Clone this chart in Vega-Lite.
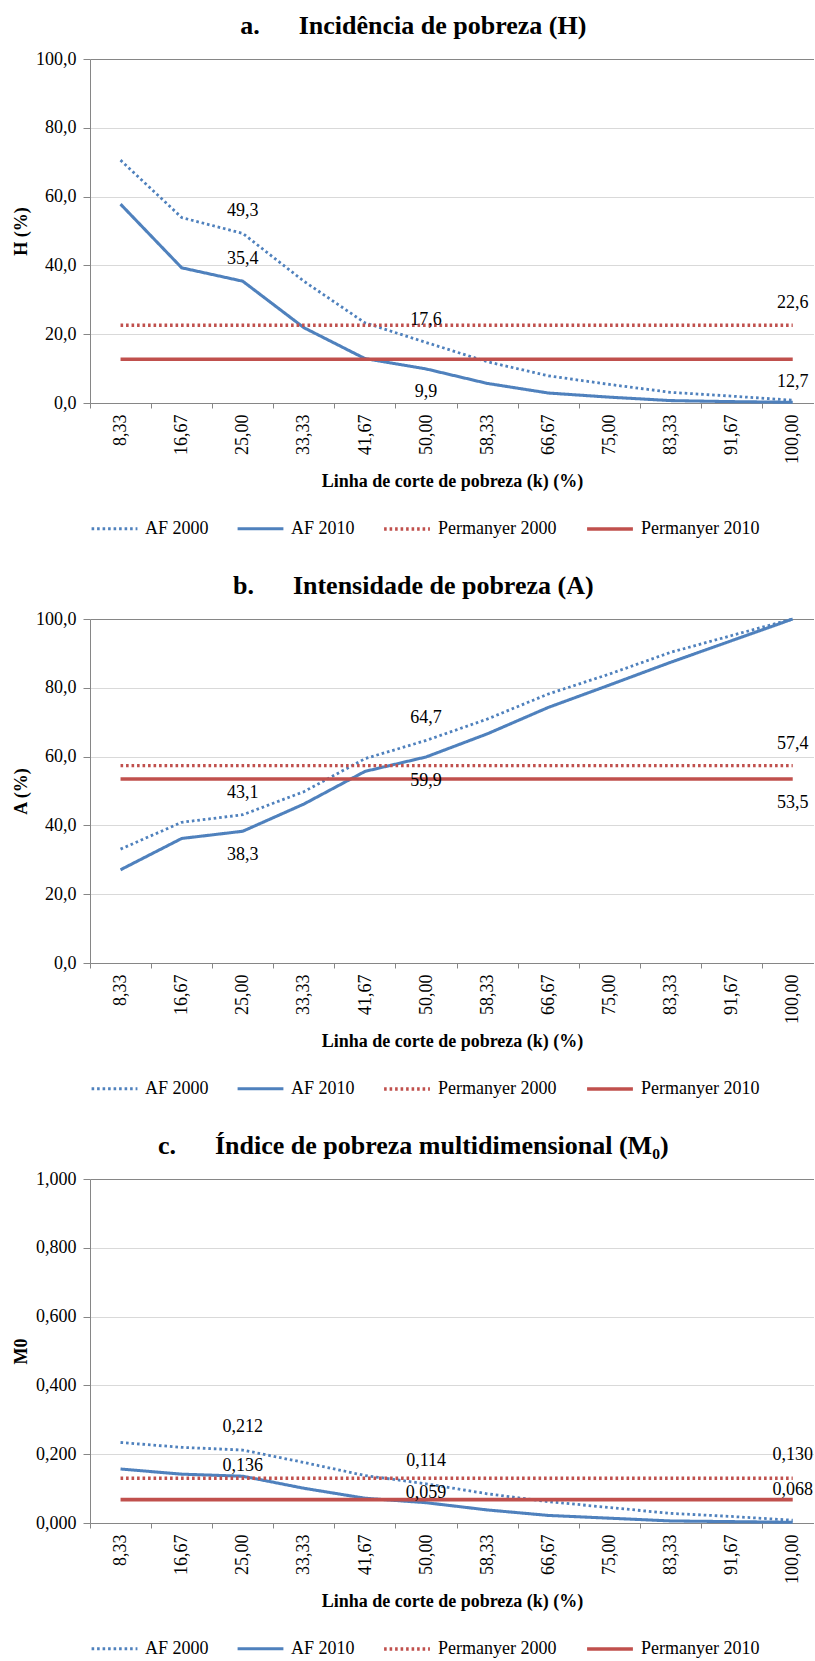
{
  "$schema": "https://vega.github.io/schema/vega-lite/v6.json",
  "padding": {"left": 12, "top": 12, "right": 0, "bottom": 0},
  "background": "white",
  "spacing": 34,
  "config": {
    "locale": {"number": {"decimal": ",", "thousands": ".", "grouping": [3], "currency": ["R$", ""]}},
    "font": "Liberation Serif",
    "view": {"stroke": null},
    "title": {"font": "Liberation Serif", "fontSize": 26, "fontWeight": "bold", "color": "black", "anchor": "middle", "frame": "bounds", "offset": 11.5},
    "axis": {"labelFont": "Liberation Serif", "labelFontSize": 18, "labelColor": "black", "titleFont": "Liberation Serif", "titleFontSize": 18, "titleFontWeight": "bold", "titleColor": "black", "domainColor": "#868686", "tickColor": "#868686", "gridColor": "#D9D9D9", "gridWidth": 1},
    "legend": {"orient": "bottom", "direction": "horizontal", "labelFont": "Liberation Serif", "labelFontSize": 18, "labelColor": "black", "symbolType": "stroke", "symbolSize": 2100, "labelOffset": 6, "columnPadding": 22, "offset": 13},
    "text": {"font": "Liberation Serif", "fontSize": 18, "color": "black"}
  },
  "datasets": {
    "H": [
      {"k": 8.33, "series": "AF 2000", "v": 70.6}, {"k": 16.67, "series": "AF 2000", "v": 53.9}, {"k": 25, "series": "AF 2000", "v": 49.3}, {"k": 33.33, "series": "AF 2000", "v": 35.4}, {"k": 41.67, "series": "AF 2000", "v": 23.3}, {"k": 50, "series": "AF 2000", "v": 17.6}, {"k": 58.33, "series": "AF 2000", "v": 12.0}, {"k": 66.67, "series": "AF 2000", "v": 7.9}, {"k": 75, "series": "AF 2000", "v": 5.4}, {"k": 83.33, "series": "AF 2000", "v": 3.1}, {"k": 91.67, "series": "AF 2000", "v": 2.0}, {"k": 100, "series": "AF 2000", "v": 0.8},
      {"k": 8.33, "series": "AF 2010", "v": 57.8}, {"k": 16.67, "series": "AF 2010", "v": 39.3}, {"k": 25, "series": "AF 2010", "v": 35.4}, {"k": 33.33, "series": "AF 2010", "v": 21.9}, {"k": 41.67, "series": "AF 2010", "v": 12.9}, {"k": 50, "series": "AF 2010", "v": 9.9}, {"k": 58.33, "series": "AF 2010", "v": 5.7}, {"k": 66.67, "series": "AF 2010", "v": 2.9}, {"k": 75, "series": "AF 2010", "v": 1.7}, {"k": 83.33, "series": "AF 2010", "v": 0.7}, {"k": 91.67, "series": "AF 2010", "v": 0.4}, {"k": 100, "series": "AF 2010", "v": 0.2},
      {"k": 8.33, "series": "Permanyer 2000", "v": 22.6}, {"k": 16.67, "series": "Permanyer 2000", "v": 22.6}, {"k": 25, "series": "Permanyer 2000", "v": 22.6}, {"k": 33.33, "series": "Permanyer 2000", "v": 22.6}, {"k": 41.67, "series": "Permanyer 2000", "v": 22.6}, {"k": 50, "series": "Permanyer 2000", "v": 22.6}, {"k": 58.33, "series": "Permanyer 2000", "v": 22.6}, {"k": 66.67, "series": "Permanyer 2000", "v": 22.6}, {"k": 75, "series": "Permanyer 2000", "v": 22.6}, {"k": 83.33, "series": "Permanyer 2000", "v": 22.6}, {"k": 91.67, "series": "Permanyer 2000", "v": 22.6}, {"k": 100, "series": "Permanyer 2000", "v": 22.6},
      {"k": 8.33, "series": "Permanyer 2010", "v": 12.7}, {"k": 16.67, "series": "Permanyer 2010", "v": 12.7}, {"k": 25, "series": "Permanyer 2010", "v": 12.7}, {"k": 33.33, "series": "Permanyer 2010", "v": 12.7}, {"k": 41.67, "series": "Permanyer 2010", "v": 12.7}, {"k": 50, "series": "Permanyer 2010", "v": 12.7}, {"k": 58.33, "series": "Permanyer 2010", "v": 12.7}, {"k": 66.67, "series": "Permanyer 2010", "v": 12.7}, {"k": 75, "series": "Permanyer 2010", "v": 12.7}, {"k": 83.33, "series": "Permanyer 2010", "v": 12.7}, {"k": 91.67, "series": "Permanyer 2010", "v": 12.7}, {"k": 100, "series": "Permanyer 2010", "v": 12.7}
    ],
    "A": [
      {"k": 8.33, "series": "AF 2000", "v": 33.1}, {"k": 16.67, "series": "AF 2000", "v": 40.9}, {"k": 25, "series": "AF 2000", "v": 43.1}, {"k": 33.33, "series": "AF 2000", "v": 49.8}, {"k": 41.67, "series": "AF 2000", "v": 59.4}, {"k": 50, "series": "AF 2000", "v": 64.7}, {"k": 58.33, "series": "AF 2000", "v": 70.9}, {"k": 66.67, "series": "AF 2000", "v": 78.2}, {"k": 75, "series": "AF 2000", "v": 84.0}, {"k": 83.33, "series": "AF 2000", "v": 90.3}, {"k": 91.67, "series": "AF 2000", "v": 95.2}, {"k": 100, "series": "AF 2000", "v": 100.0},
      {"k": 8.33, "series": "AF 2010", "v": 27.1}, {"k": 16.67, "series": "AF 2010", "v": 36.2}, {"k": 25, "series": "AF 2010", "v": 38.3}, {"k": 33.33, "series": "AF 2010", "v": 46.2}, {"k": 41.67, "series": "AF 2010", "v": 55.7}, {"k": 50, "series": "AF 2010", "v": 59.9}, {"k": 58.33, "series": "AF 2010", "v": 66.6}, {"k": 66.67, "series": "AF 2010", "v": 74.3}, {"k": 75, "series": "AF 2010", "v": 80.8}, {"k": 83.33, "series": "AF 2010", "v": 87.4}, {"k": 91.67, "series": "AF 2010", "v": 93.7}, {"k": 100, "series": "AF 2010", "v": 100.0},
      {"k": 8.33, "series": "Permanyer 2000", "v": 57.4}, {"k": 16.67, "series": "Permanyer 2000", "v": 57.4}, {"k": 25, "series": "Permanyer 2000", "v": 57.4}, {"k": 33.33, "series": "Permanyer 2000", "v": 57.4}, {"k": 41.67, "series": "Permanyer 2000", "v": 57.4}, {"k": 50, "series": "Permanyer 2000", "v": 57.4}, {"k": 58.33, "series": "Permanyer 2000", "v": 57.4}, {"k": 66.67, "series": "Permanyer 2000", "v": 57.4}, {"k": 75, "series": "Permanyer 2000", "v": 57.4}, {"k": 83.33, "series": "Permanyer 2000", "v": 57.4}, {"k": 91.67, "series": "Permanyer 2000", "v": 57.4}, {"k": 100, "series": "Permanyer 2000", "v": 57.4},
      {"k": 8.33, "series": "Permanyer 2010", "v": 53.5}, {"k": 16.67, "series": "Permanyer 2010", "v": 53.5}, {"k": 25, "series": "Permanyer 2010", "v": 53.5}, {"k": 33.33, "series": "Permanyer 2010", "v": 53.5}, {"k": 41.67, "series": "Permanyer 2010", "v": 53.5}, {"k": 50, "series": "Permanyer 2010", "v": 53.5}, {"k": 58.33, "series": "Permanyer 2010", "v": 53.5}, {"k": 66.67, "series": "Permanyer 2010", "v": 53.5}, {"k": 75, "series": "Permanyer 2010", "v": 53.5}, {"k": 83.33, "series": "Permanyer 2010", "v": 53.5}, {"k": 91.67, "series": "Permanyer 2010", "v": 53.5}, {"k": 100, "series": "Permanyer 2010", "v": 53.5}
    ],
    "M0": [
      {"k": 8.33, "series": "AF 2000", "v": 0.234}, {"k": 16.67, "series": "AF 2000", "v": 0.220}, {"k": 25, "series": "AF 2000", "v": 0.212}, {"k": 33.33, "series": "AF 2000", "v": 0.176}, {"k": 41.67, "series": "AF 2000", "v": 0.138}, {"k": 50, "series": "AF 2000", "v": 0.114}, {"k": 58.33, "series": "AF 2000", "v": 0.085}, {"k": 66.67, "series": "AF 2000", "v": 0.062}, {"k": 75, "series": "AF 2000", "v": 0.045}, {"k": 83.33, "series": "AF 2000", "v": 0.028}, {"k": 91.67, "series": "AF 2000", "v": 0.019}, {"k": 100, "series": "AF 2000", "v": 0.008},
      {"k": 8.33, "series": "AF 2010", "v": 0.157}, {"k": 16.67, "series": "AF 2010", "v": 0.142}, {"k": 25, "series": "AF 2010", "v": 0.136}, {"k": 33.33, "series": "AF 2010", "v": 0.101}, {"k": 41.67, "series": "AF 2010", "v": 0.072}, {"k": 50, "series": "AF 2010", "v": 0.059}, {"k": 58.33, "series": "AF 2010", "v": 0.038}, {"k": 66.67, "series": "AF 2010", "v": 0.022}, {"k": 75, "series": "AF 2010", "v": 0.014}, {"k": 83.33, "series": "AF 2010", "v": 0.006}, {"k": 91.67, "series": "AF 2010", "v": 0.004}, {"k": 100, "series": "AF 2010", "v": 0.002},
      {"k": 8.33, "series": "Permanyer 2000", "v": 0.130}, {"k": 16.67, "series": "Permanyer 2000", "v": 0.130}, {"k": 25, "series": "Permanyer 2000", "v": 0.130}, {"k": 33.33, "series": "Permanyer 2000", "v": 0.130}, {"k": 41.67, "series": "Permanyer 2000", "v": 0.130}, {"k": 50, "series": "Permanyer 2000", "v": 0.130}, {"k": 58.33, "series": "Permanyer 2000", "v": 0.130}, {"k": 66.67, "series": "Permanyer 2000", "v": 0.130}, {"k": 75, "series": "Permanyer 2000", "v": 0.130}, {"k": 83.33, "series": "Permanyer 2000", "v": 0.130}, {"k": 91.67, "series": "Permanyer 2000", "v": 0.130}, {"k": 100, "series": "Permanyer 2000", "v": 0.130},
      {"k": 8.33, "series": "Permanyer 2010", "v": 0.068}, {"k": 16.67, "series": "Permanyer 2010", "v": 0.068}, {"k": 25, "series": "Permanyer 2010", "v": 0.068}, {"k": 33.33, "series": "Permanyer 2010", "v": 0.068}, {"k": 41.67, "series": "Permanyer 2010", "v": 0.068}, {"k": 50, "series": "Permanyer 2010", "v": 0.068}, {"k": 58.33, "series": "Permanyer 2010", "v": 0.068}, {"k": 66.67, "series": "Permanyer 2010", "v": 0.068}, {"k": 75, "series": "Permanyer 2010", "v": 0.068}, {"k": 83.33, "series": "Permanyer 2010", "v": 0.068}, {"k": 91.67, "series": "Permanyer 2010", "v": 0.068}, {"k": 100, "series": "Permanyer 2010", "v": 0.068}
    ]
  },
  "resolve": {
    "scale": {"x": "independent", "y": "independent", "color": "independent", "strokeDash": "independent", "strokeWidth": "independent"},
    "legend": {"color": "independent", "strokeDash": "independent", "strokeWidth": "independent"}
  },
  "vconcat": [
    {
      "title": {"text": "a.\u00a0\u00a0\u00a0\u00a0\u00a0 Incidência de pobreza (H)"},
      "width": 724, "height": 344,
      "data": {"name": "H"},
      "encoding": {
        "x": {"field": "k", "type": "quantitative", "scale": {"domain": [4.165, 102.9], "nice": false, "zero": false},
          "axis": {"title": "Linha de corte de pobreza (k) (%)", "values": [8.33, 16.67, 25, 33.33, 41.67, 50, 58.33, 66.67, 75, 83.33, 91.67, 100], "format": ".2f", "labelAngle": -90, "tickOffset": -30.6, "labelOffset": 30.6, "tickSize": 5, "labelPadding": 6, "grid": false, "titlePadding": 9}},
        "y": {"field": "v", "type": "quantitative", "scale": {"domain": [0, 100], "nice": false},
          "axis": {"title": "H (%)", "values": [0, 20, 40, 60, 80, 100], "format": ".1f", "tickSize": 7, "labelPadding": 7, "titlePadding": 5, "gridColor": {"condition": {"test": "datum.value === 100", "value": "#868686"}, "value": "#D9D9D9"}}}
      },
      "layer": [
        {"mark": {"type": "line", "strokeCap": "butt"},
         "encoding": {
           "color": {"field": "series", "type": "nominal", "scale": {"domain": ["AF 2000", "AF 2010", "Permanyer 2000", "Permanyer 2010"], "range": ["#4F81BD", "#4F81BD", "#C0504D", "#C0504D"]}, "legend": {"title": null}},
           "strokeDash": {"field": "series", "type": "nominal", "scale": {"domain": ["AF 2000", "AF 2010", "Permanyer 2000", "Permanyer 2010"], "range": [[2.6, 2.9], [1, 0], [2.6, 2.9], [1, 0]]}, "legend": {"title": null}},
           "strokeWidth": {"field": "series", "type": "nominal", "scale": {"domain": ["AF 2000", "AF 2010", "Permanyer 2000", "Permanyer 2010"], "range": [2.8, 3.6, 2.8, 3.6]}, "legend": {"title": null}}
         }},
        {"transform": [{"filter": "(datum.series == 'AF 2000' && (datum.k == 25 || datum.k == 50)) || (datum.series == 'AF 2010' && datum.k == 25) || (datum.series == 'Permanyer 2000' && datum.k == 100)"}],
         "mark": {"type": "text", "dy": -22},
         "encoding": {"text": {"field": "v", "type": "quantitative", "format": ".1f"}}},
        {"transform": [{"filter": "(datum.series == 'AF 2010' && datum.k == 50) || (datum.series == 'Permanyer 2010' && datum.k == 100)"}],
         "mark": {"type": "text", "dy": 23},
         "encoding": {"text": {"field": "v", "type": "quantitative", "format": ".1f"}}}
      ]
    },
    {
      "title": {"text": "b.\u00a0\u00a0\u00a0\u00a0\u00a0 Intensidade de pobreza (A)"},
      "width": 724, "height": 344,
      "data": {"name": "A"},
      "encoding": {
        "x": {"field": "k", "type": "quantitative", "scale": {"domain": [4.165, 102.9], "nice": false, "zero": false},
          "axis": {"title": "Linha de corte de pobreza (k) (%)", "values": [8.33, 16.67, 25, 33.33, 41.67, 50, 58.33, 66.67, 75, 83.33, 91.67, 100], "format": ".2f", "labelAngle": -90, "tickOffset": -30.6, "labelOffset": 30.6, "tickSize": 5, "labelPadding": 6, "grid": false, "titlePadding": 9}},
        "y": {"field": "v", "type": "quantitative", "scale": {"domain": [0, 100], "nice": false},
          "axis": {"title": "A (%)", "values": [0, 20, 40, 60, 80, 100], "format": ".1f", "tickSize": 7, "labelPadding": 7, "titlePadding": 5, "gridColor": {"condition": {"test": "datum.value === 100", "value": "#868686"}, "value": "#D9D9D9"}}}
      },
      "layer": [
        {"mark": {"type": "line", "strokeCap": "butt"},
         "encoding": {
           "color": {"field": "series", "type": "nominal", "scale": {"domain": ["AF 2000", "AF 2010", "Permanyer 2000", "Permanyer 2010"], "range": ["#4F81BD", "#4F81BD", "#C0504D", "#C0504D"]}, "legend": {"title": null}},
           "strokeDash": {"field": "series", "type": "nominal", "scale": {"domain": ["AF 2000", "AF 2010", "Permanyer 2000", "Permanyer 2010"], "range": [[2.6, 2.9], [1, 0], [2.6, 2.9], [1, 0]]}, "legend": {"title": null}},
           "strokeWidth": {"field": "series", "type": "nominal", "scale": {"domain": ["AF 2000", "AF 2010", "Permanyer 2000", "Permanyer 2010"], "range": [2.8, 3.6, 2.8, 3.6]}, "legend": {"title": null}}
         }},
        {"transform": [{"filter": "(datum.series == 'AF 2000' && (datum.k == 25 || datum.k == 50)) || (datum.series == 'Permanyer 2000' && datum.k == 100)"}],
         "mark": {"type": "text", "dy": -22},
         "encoding": {"text": {"field": "v", "type": "quantitative", "format": ".1f"}}},
        {"transform": [{"filter": "(datum.series == 'AF 2010' && (datum.k == 25 || datum.k == 50)) || (datum.series == 'Permanyer 2010' && datum.k == 100)"}],
         "mark": {"type": "text", "dy": 24},
         "encoding": {"text": {"field": "v", "type": "quantitative", "format": ".1f"}}}
      ]
    },
    {
      "title": {"text": "c.\u00a0\u00a0\u00a0\u00a0\u00a0 Índice de pobreza multidimensional (M₀)"},
      "width": 724, "height": 344,
      "data": {"name": "M0"},
      "encoding": {
        "x": {"field": "k", "type": "quantitative", "scale": {"domain": [4.165, 102.9], "nice": false, "zero": false},
          "axis": {"title": "Linha de corte de pobreza (k) (%)", "values": [8.33, 16.67, 25, 33.33, 41.67, 50, 58.33, 66.67, 75, 83.33, 91.67, 100], "format": ".2f", "labelAngle": -90, "tickOffset": -30.6, "labelOffset": 30.6, "tickSize": 5, "labelPadding": 6, "grid": false, "titlePadding": 9}},
        "y": {"field": "v", "type": "quantitative", "scale": {"domain": [0, 1], "nice": false},
          "axis": {"title": "M0", "values": [0, 0.2, 0.4, 0.6, 0.8, 1], "format": ".3f", "tickSize": 7, "labelPadding": 7, "titlePadding": 5, "gridColor": {"condition": {"test": "datum.value === 1", "value": "#868686"}, "value": "#D9D9D9"}}}
      },
      "layer": [
        {"mark": {"type": "line", "strokeCap": "butt"},
         "encoding": {
           "color": {"field": "series", "type": "nominal", "scale": {"domain": ["AF 2000", "AF 2010", "Permanyer 2000", "Permanyer 2010"], "range": ["#4F81BD", "#4F81BD", "#C0504D", "#C0504D"]}, "legend": {"title": null}},
           "strokeDash": {"field": "series", "type": "nominal", "scale": {"domain": ["AF 2000", "AF 2010", "Permanyer 2000", "Permanyer 2010"], "range": [[2.6, 2.9], [1, 0], [2.6, 2.9], [1, 0]]}, "legend": {"title": null}},
           "strokeWidth": {"field": "series", "type": "nominal", "scale": {"domain": ["AF 2000", "AF 2010", "Permanyer 2000", "Permanyer 2010"], "range": [2.8, 3.6, 2.8, 3.6]}, "legend": {"title": null}}
         }},
        {"transform": [{"filter": "(datum.series == 'AF 2000' && (datum.k == 25 || datum.k == 50)) || (datum.series == 'Permanyer 2000' && datum.k == 100)"}],
         "mark": {"type": "text", "dy": -23},
         "encoding": {"text": {"field": "v", "type": "quantitative", "format": ".3f"}}},
        {"transform": [{"filter": "(datum.series == 'AF 2010' && (datum.k == 25 || datum.k == 50)) || (datum.series == 'Permanyer 2010' && datum.k == 100)"}],
         "mark": {"type": "text", "dy": -10},
         "encoding": {"text": {"field": "v", "type": "quantitative", "format": ".3f"}}}
      ]
    }
  ]
}
